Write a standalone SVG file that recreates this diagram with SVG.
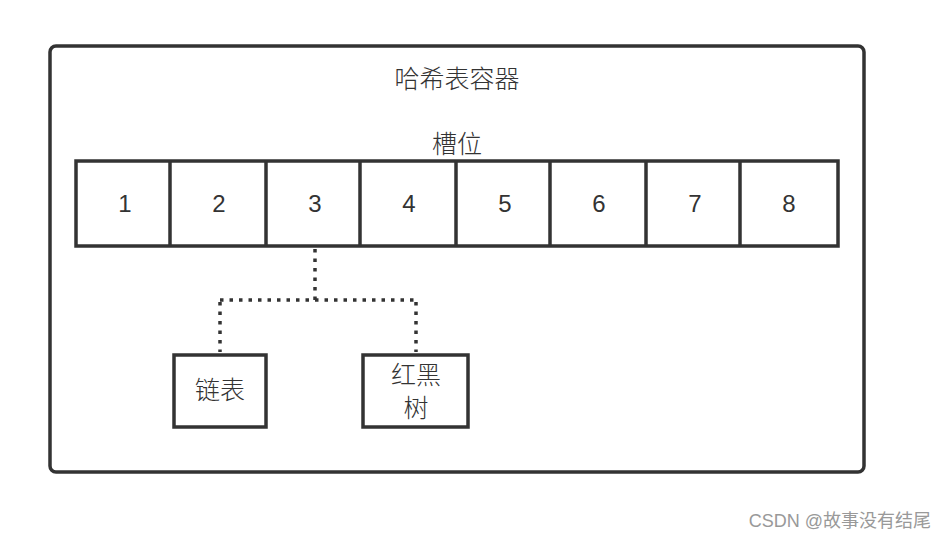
<svg xmlns="http://www.w3.org/2000/svg" width="948" height="546" viewBox="0 0 948 546">
<style>
.box{fill:#fff;stroke:#333;stroke-width:3.5}
.t{font-family:"Noto Sans CJK SC","Liberation Sans",sans-serif;font-size:25px;font-weight:300;fill:#333;text-anchor:middle;dominant-baseline:central}
.n{font-family:"Liberation Sans",sans-serif;font-size:24px;fill:#333;text-anchor:middle;dominant-baseline:central}
.dot{fill:none;stroke:#333;stroke-width:3.5;stroke-dasharray:3.5 6}
</style>
<rect width="948" height="546" fill="#fff"/>
<g id="container">
<rect class="box" x="50" y="46" width="814" height="426" rx="6"/>
<text class="t" x="457" y="77">哈希表容器</text>
</g>
<g id="slots">
<text class="t" x="457" y="142">槽位</text>
<rect class="box" x="76" y="161" width="762" height="85"/>
<path d="M170 161V246M266 161V246M360 161V246M456 161V246M550 161V246M646 161V246M740 161V246" stroke="#333" stroke-width="3.5"/>
<text class="n" x="125" y="203">1</text>
<text class="n" x="219" y="203">2</text>
<text class="n" x="315" y="203">3</text>
<text class="n" x="409" y="203">4</text>
<text class="n" x="505" y="203">5</text>
<text class="n" x="599" y="203">6</text>
<text class="n" x="695" y="203">7</text>
<text class="n" x="789" y="203">8</text>
</g>
<g id="connectors">
<path class="dot" d="M315 249V300M220 300H416M220 302V352M416 302V352"/>
</g>
<g id="linkedlist">
<rect class="box" x="174" y="355" width="92" height="72"/>
<text class="t" x="220" y="388">链表</text>
</g>
<g id="rbtree">
<rect class="box" x="363" y="355" width="105" height="72"/>
<text class="t" x="416" y="373">红黑</text>
<text class="t" x="416" y="406">树</text>
</g>
<text x="931" y="527" font-family="Liberation Sans,Noto Sans CJK SC,sans-serif" font-size="18" fill="#999" text-anchor="end">CSDN @故事没有结尾</text>
</svg>
